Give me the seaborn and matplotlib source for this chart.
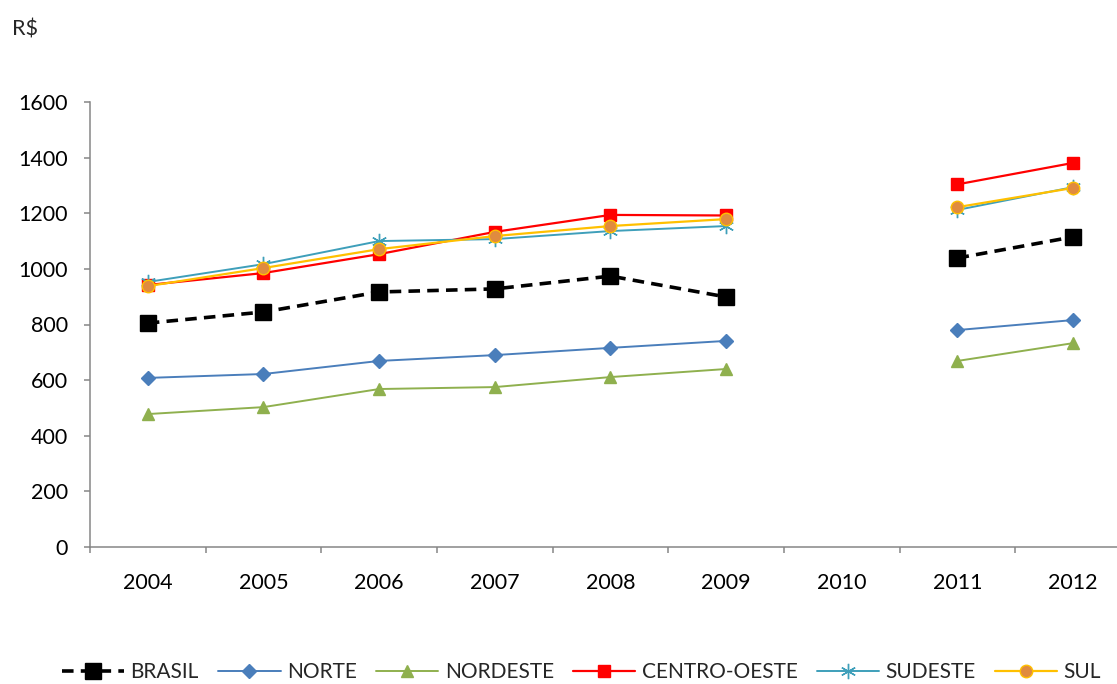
import numpy as np
import pandas as pd
import seaborn as sns
import matplotlib.pyplot as plt
from matplotlib.lines import Line2D
from matplotlib.ticker import FixedLocator

# Average income by region (R$), 2004-2012; no survey in 2010
years = ["2004", "2005", "2006", "2007", "2008", "2009", "2010", "2011", "2012"]
brasil = [805, 845, 917, 928, 974, 899, np.nan, 1039, 1115]
norte = [608, 622, 669, 690, 716, 741, np.nan, 780, 816]
nordeste = [478, 503, 568, 575, 611, 640, np.nan, 669, 733]
centro_oeste = [942, 985, 1053, 1133, 1194, 1192, np.nan, 1304, 1381]
sudeste = [953, 1017, 1100, 1107, 1136, 1154, np.nan, 1212, 1294]
sul = [938, 1003, 1071, 1118, 1154, 1179, np.nan, 1222, 1291]

series_names = ["BRASIL", "NORTE", "NORDESTE", "CENTRO-OESTE", "SUDESTE", "SUL"]
series_values = [brasil, norte, nordeste, centro_oeste, sudeste, sul]

sns.set_theme(style="white")
plt.rcParams["font.family"] = ["Lato", "DejaVu Sans"]

styles = {
    "BRASIL": dict(color="black", lw=2.6, ls=(0, (3.2, 2.0)), marker="s", ms=12,
                   mfc="black", mec="black"),
    "NORTE": dict(color="#4A7EBB", lw=1.4, ls="-", marker="D", ms=7.5,
                  mfc="#4A7EBB", mec="#4A7EBB"),
    "NORDESTE": dict(color="#8FB04E", lw=1.4, ls="-", marker="^", ms=9,
                     mfc="#8FB04E", mec="#8FB04E"),
    "CENTRO-OESTE": dict(color="#FF0000", lw=1.6, ls="-", marker="s", ms=9,
                         mfc="#FF0000", mec="#FF0000"),
    "SUDESTE": dict(color="#3E9FBA", lw=1.4, ls="-", marker=(6, 2, 0), ms=11,
                    mfc="#3E9FBA", mec="#3E9FBA"),
    "SUL": dict(color="#FFC000", lw=1.6, ls="-", marker="o", ms=9,
                mfc="#E08B3F", mec="#FFC000"),
}

rows = []
for name, vals in zip(series_names, series_values):
    for i, v in enumerate(vals):
        rows.append({"serie": name, "pos": i, "valor": v, "trecho": int(i > 6)})
df = pd.DataFrame(rows).dropna()

fig = plt.figure(figsize=(11.17, 6.84), dpi=100)
ax = fig.add_axes([90 / 1117, 1 - 547 / 684, (1131 - 90) / 1117, (547 - 102) / 684])

for name in series_names:
    st = styles[name]
    sub = df[df["serie"] == name]
    sns.lineplot(data=sub, x="pos", y="valor", units="trecho", estimator=None,
                 sort=False, ax=ax, legend=False,
                 color=st["color"], linewidth=st["lw"], linestyle=st["ls"],
                 marker=st["marker"], markersize=st["ms"],
                 markerfacecolor=st["mfc"], markeredgecolor=st["mec"],
                 markeredgewidth=1.0)

axis_gray = "#868686"
ax.set_xlim(-0.5, 8.5)
ax.set_ylim(0, 1600)
ax.set_xlabel("")
ax.set_ylabel("")
ax.set_yticks(range(0, 1601, 200))
ax.set_xticks(range(len(years)))
ax.set_xticklabels(years)
ax.xaxis.set_minor_locator(FixedLocator(np.arange(-0.5, 9, 1.0)))
ax.tick_params(axis="x", which="major", length=0, pad=18.5, labelsize=15.5,
               labelcolor="black")
ax.tick_params(axis="x", which="minor", length=4.5, width=1.1, color=axis_gray,
               direction="out", bottom=True)
ax.tick_params(axis="y", which="major", length=4, width=1.1, color=axis_gray,
               direction="out", left=True, pad=12, labelsize=15.5,
               labelcolor="black")
for side in ["top", "right"]:
    ax.spines[side].set_visible(False)
for side in ["left", "bottom"]:
    ax.spines[side].set_color(axis_gray)
    ax.spines[side].set_linewidth(1.1)
ax.grid(False)

fig.text(12 / 1117, 1 - 29 / 684, "R$", fontsize=15.5, va="center", ha="left")

handles = []
for name in series_names:
    st = styles[name]
    handles.append(Line2D([], [], color=st["color"], lw=st["lw"], ls=st["ls"],
                          marker=st["marker"], markersize=st["ms"],
                          markerfacecolor=st["mfc"], markeredgecolor=st["mec"]))
fig.legend(handles, series_names, loc="center", bbox_to_anchor=(0.5206, 1 - 672 / 684),
           ncol=6, frameon=False, fontsize=15, handlelength=3.0,
           handletextpad=0.3, columnspacing=0.92)

fig.savefig("out.png", dpi=100)
